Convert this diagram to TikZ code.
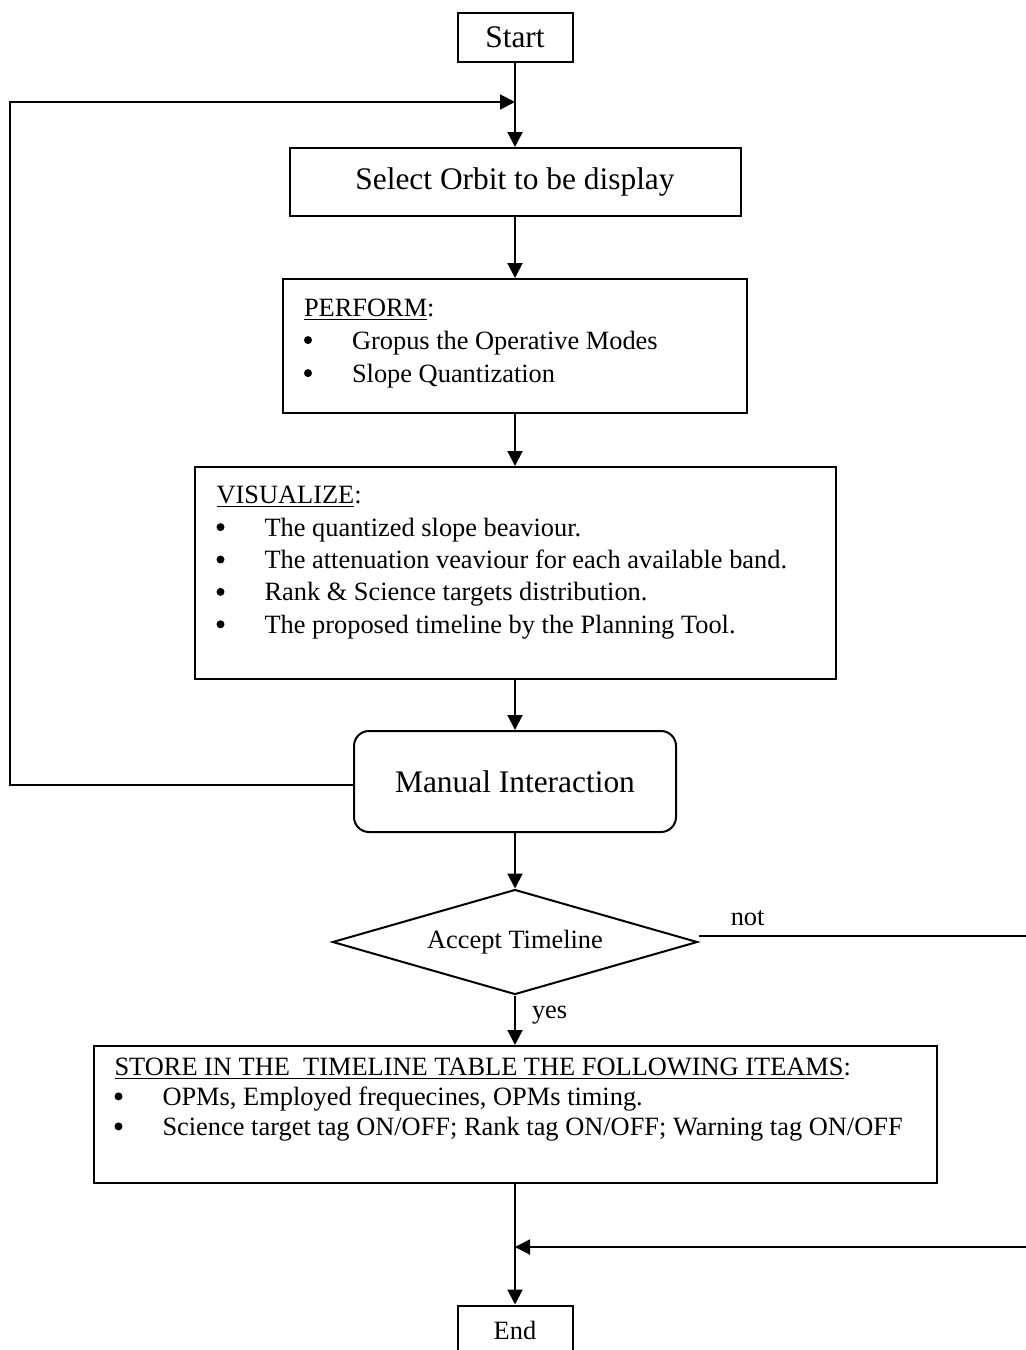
\documentclass[tikz,border=0pt]{standalone}
\usepackage{fontspec}
\setmainfont{Liberation Serif}
\usetikzlibrary{arrows.meta,positioning,shapes.geometric}

\tikzset{
  stepbox/.style={draw, line width=1pt, inner sep=0pt},
  bigfont/.style={font=\fontsize{15.7pt}{19pt}\selectfont},
  link/.style={line width=1pt, -{Triangle[width=7.5pt,length=7.5pt]}},
  plainline/.style={line width=1pt},
}
\newcommand{\bitem}[1]{\mbox{\makebox[24pt][l]{\tikz[baseline=-4.5pt]\fill (3pt,0pt) circle[radius=2pt];}#1}}

\begin{document}
\begin{tikzpicture}[x=0.5pt, y=-0.5pt, font=\fontsize{13.2pt}{16.2pt}\selectfont]
  \useasboundingbox (0,0) rectangle (1026,1350);

  % boxes of the flow
  \node[stepbox, bigfont, minimum width=57.5pt, minimum height=24.5pt] (start) at (515,37.5) {Start};
  \node[stepbox, bigfont, minimum width=225.5pt, minimum height=34pt] (select) at (515,182) {Select Orbit to be display};
  \node[stepbox, anchor=north, inner xsep=10.5pt, inner ysep=7pt] (perform) at (515,278) {%
    \parbox[t][53pt][t]{211pt}{\fontsize{13.2pt}{16.5pt}\selectfont
      \strut\underline{PERFORM}:\\
      \bitem{Gropus the Operative Modes}\\
      \bitem{Slope Quantization}}};
  \node[stepbox, anchor=north, inner xsep=11pt, inner ysep=7pt] (visual) at (515,466) {%
    \parbox[t][92pt][t]{298.5pt}{\fontsize{13.2pt}{16.2pt}\selectfont
      \strut\underline{VISUALIZE}:\\
      \bitem{The quantized slope beaviour.}\\
      \bitem{The attenuation veaviour for each available band.}\\
      \bitem{Rank \& Science targets distribution.}\\
      \bitem{The proposed timeline by the Planning Tool.}}};
  \node[stepbox, bigfont, rounded corners=7.5pt, minimum width=161pt, minimum height=50.5pt] (manual) at (515,781.5) {Manual Interaction};
  \node[stepbox, diamond, aspect=3.5, minimum width=182.5pt, minimum height=52.5pt] (accept) at (515,942) {Accept Timeline};
  \node[stepbox, anchor=north, inner xsep=10.5pt, inner ysep=4.2pt] (store) at (515,1045) {%
    \parbox[t][60.1pt][t]{400.5pt}{\fontsize{13.2pt}{15pt}\selectfont
      \strut\underline{STORE IN THE\ \ TIMELINE TABLE THE FOLLOWING ITEAMS}:\\
      \bitem{OPMs, Employed frequecines, OPMs timing.}\\
      \bitem{Science target tag ON/OFF; Rank tag ON/OFF; Warning tag ON/OFF}}};
  \node[stepbox, minimum width=57.5pt, minimum height=24.5pt] (finish) at (515,1330) {End};

  % free ends
  \coordinate (loopin) at (515,102);
  \coordinate (loopx) at (10,0);
  \coordinate (notx) at (1026,0);
  \coordinate (backin) at (1026,1247);

  % connectors
  \draw[link] (start) -- (select);
  \draw[link] (select) -- (perform);
  \draw[link] (perform) -- (visual);
  \draw[link] (visual) -- (manual);
  \draw[link] (manual) -- (accept);
  \draw[link] (accept) -- node[pos=0.39, right=8pt, inner sep=0pt] {yes} (store);
  \draw[link] (store) -- (finish);
  \draw[link] ([yshift=-1.5pt]manual.west) -- ([yshift=-1.5pt]manual.west -| loopx) |- (loopin);
  \draw[plainline] ([yshift=3pt]accept.east) -- node[pos=0.15, above=4.5pt, inner sep=0pt] {not} ([yshift=3pt]accept.east -| notx);
  \draw[link] (backin) -- (backin -| finish.north);
\end{tikzpicture}
\end{document}
